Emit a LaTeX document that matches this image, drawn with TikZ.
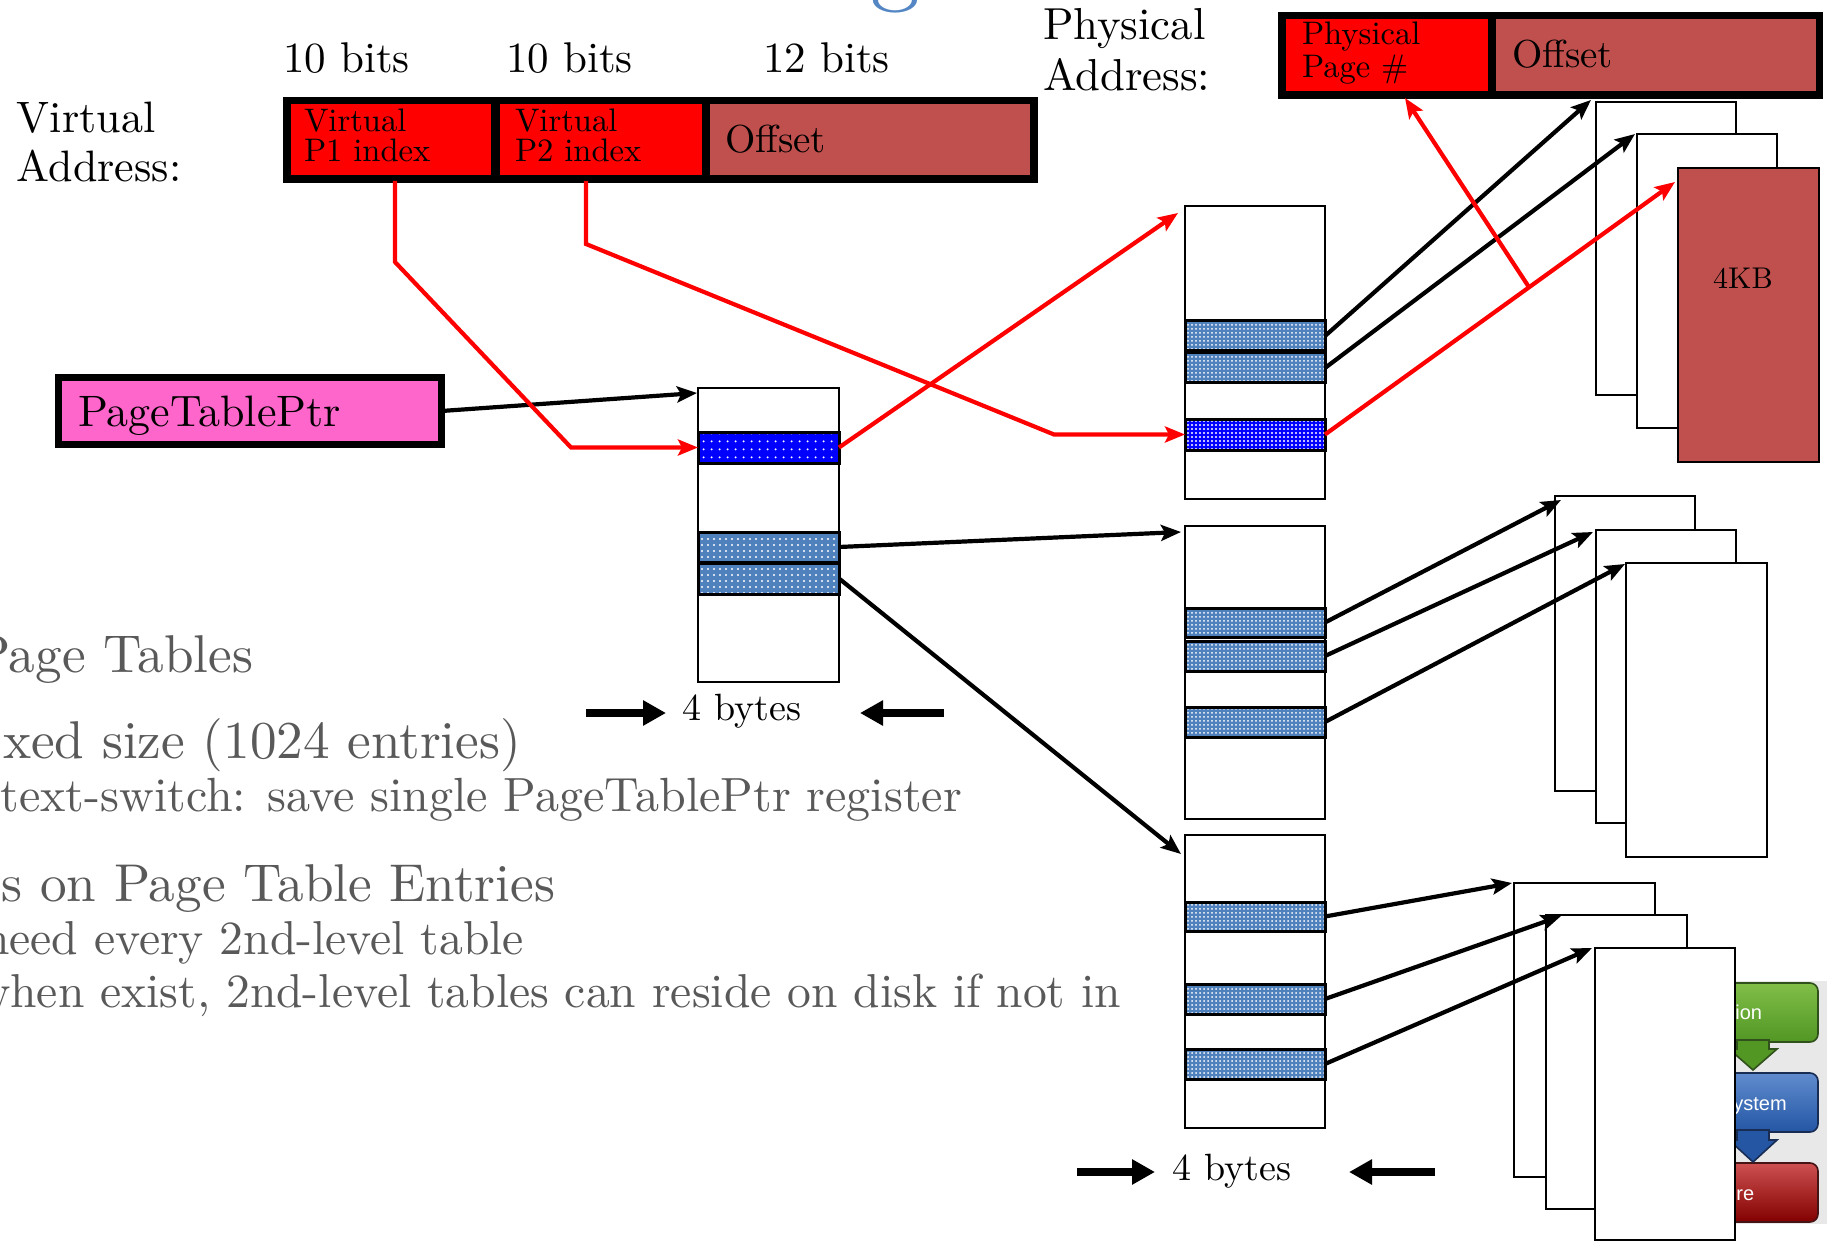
\documentclass[tikz,border=0pt]{standalone}
\usepackage{fontspec}
\setmainfont{lmroman10-regular.otf}
\newfontfamily\uisans{Liberation Sans}
\usetikzlibrary{arrows.meta,calc,patterns.meta}

\definecolor{fieldred}{RGB}{255,0,0}
\definecolor{brick}{RGB}{192,80,77}
\definecolor{ptpink}{RGB}{255,102,204}
\definecolor{pteblue}{RGB}{79,129,189}
\definecolor{pteblue2}{RGB}{0,0,255}
\definecolor{slidegray}{RGB}{89,89,89}
\definecolor{titleblue}{RGB}{84,134,196}
\definecolor{uibg}{RGB}{232,232,232}
\definecolor{gtop}{RGB}{128,190,72}
\definecolor{gbot}{RGB}{82,150,36}
\definecolor{gline}{RGB}{48,80,28}
\definecolor{btop}{RGB}{96,140,206}
\definecolor{bbot}{RGB}{36,86,164}
\definecolor{bline}{RGB}{24,44,84}
\definecolor{rtop}{RGB}{206,80,80}
\definecolor{rbot}{RGB}{130,0,0}
\definecolor{rline}{RGB}{70,20,20}

\newcommand\fsz[1]{\fontsize{#1}{#1}\selectfont}
% rectangle node given by its corners (x1,y1)-(x2,y2)
\newcommand\boxnode[6]{\node[#6, minimum width={(#4-#2)*0.5pt}, minimum height={(#5-#3)*0.5pt}] (#1) at ({(#2+#4)/2},{(#3+#5)/2}) {};}

\tikzset{
  cell/.style={inner sep=0pt, outer sep=0pt, anchor=center},
  blackbg/.style={cell, fill=black},
  redfield/.style={cell, fill=fieldred},
  brickfield/.style={cell, fill=brick},
  ptbox/.style={cell, draw=black, line width=3.5pt, fill=ptpink},
  tabframe/.style={cell, draw=black, line width=1.2pt, fill=white},
  pageframe/.style={cell, draw=black, line width=1.2pt, fill=white},
  pagebrick/.style={pageframe, fill=brick},
  entryA/.style={cell, draw=black, line width=1.5pt, preaction={fill=pteblue},
    pattern={Dots[distance=3pt,radius=0.6pt]}, pattern color=white},
  entryAx/.style={cell, draw=black, line width=1.5pt, preaction={fill=pteblue2},
    pattern={Dots[distance=4pt,radius=0.6pt]}, pattern color=white},
  entryB/.style={cell, draw=black, line width=1.5pt, preaction={fill=pteblue},
    pattern={Dots[distance=2pt,radius=0.5pt]}, pattern color=white},
  entryBx/.style={cell, draw=black, line width=1.5pt, preaction={fill=pteblue2},
    pattern={Dots[distance=2pt,radius=0.55pt]}, pattern color=white},
  lbl/.style={inner sep=0pt, outer sep=0pt, anchor=base west},
  grayline/.style={inner sep=0pt, outer sep=0pt, anchor=base east, text=slidegray},
  uitext/.style={inner sep=0pt, anchor=base west, text=white, font=\uisans\fsz{10}},
  uibox/.style={cell, rounded corners=4pt, line width=0.8pt},
  blkarrow/.style={draw=black, line width=2.1pt, -{Stealth[length=10pt,width=8pt,inset=2pt]}},
  redarrow/.style={draw=fieldred, line width=2.1pt, -{Stealth[length=10pt,width=8pt,inset=2pt]}},
  sizearrow/.style={draw=black, line width=4pt, -{Triangle[length=11.5pt,width=12pt]}},
}

\begin{document}
\begin{tikzpicture}[x=0.5pt,y=-0.5pt]
\useasboundingbox (0,0) rectangle (1827,1241);
\clip (0,0) rectangle (1827,1241);

% descender of the slide title
\node[inner sep=0pt, anchor=south, text=titleblue, font=\fsz{50}] (titleg) at (895,14) {g};

% slide body text
\node[grayline, font=\fsz{26.6}] (bodyA) at (253,672) {Page Tables};
\node[grayline, font=\fsz{26.6}] (bodyB) at (521,758) {xed size (1024 entries)};
\node[grayline, font=\fsz{24}] (bodyC) at (962,811) {text-switch: save single PageTablePtr register};
\node[grayline, font=\fsz{26.6}] (bodyD) at (555,901) {s on Page Table Entries};
\node[grayline, font=\fsz{23.8}] (bodyE) at (524,954) {need every 2nd-level table};
\node[grayline, font=\fsz{23.8}] (bodyF) at (1121,1007) {when exist, 2nd-level tables can reside on disk if not in};

% virtual address
\node[lbl, font=\fsz{21.5}] (bitsA) at (283,73) {10 bits};
\node[lbl, font=\fsz{21.5}] (bitsB) at (506,73) {10 bits};
\node[lbl, font=\fsz{21.5}] (bitsC) at (763,73) {12 bits};
\node[lbl, font=\fsz{22}] (vlabA) at (17,133) {Virtual};
\node[lbl, font=\fsz{22}] (vlabB) at (17,182) {Address:};
\boxnode{vaddr}{283}{97}{1038}{183}{blackbg}
\boxnode{vp1}{291}{104}{491}{175}{redfield}
\boxnode{vp2}{500}{104}{702}{175}{redfield}
\boxnode{voff}{710}{104}{1030}{175}{brickfield}
\node[lbl, font=\fsz{16.3}] (vp1a) at (304,132) {Virtual};
\node[lbl, font=\fsz{16.3}] (vp1b) at (304,162) {P1 index};
\node[lbl, font=\fsz{16.3}] (vp2a) at (515,132) {Virtual};
\node[lbl, font=\fsz{16.3}] (vp2b) at (515,162) {P2 index};
\node[lbl, font=\fsz{19.5}] (vofft) at (725,153) {Offset};

% physical address
\node[lbl, font=\fsz{22.4}] (plabA) at (1043,40) {Physical};
\node[lbl, font=\fsz{22.4}] (plabB) at (1043,91) {Address:};
\boxnode{paddr}{1278}{12}{1823}{99}{blackbg}
\boxnode{ppn}{1286}{19}{1488}{91}{redfield}
\boxnode{poff}{1496}{19}{1816}{91}{brickfield}
\node[lbl, font=\fsz{16.3}] (ppna) at (1302,45) {Physical};
\node[lbl, font=\fsz{16.3}] (ppnb) at (1302,78) {Page \#};
\node[lbl, font=\fsz{19.5}] (pofft) at (1512,68) {Offset};

% page table pointer register
\boxnode{ptp}{58.5}{377.5}{441.5}{444.5}{ptbox}
\node[lbl, font=\fsz{22}] (ptpt) at (78,427) {PageTablePtr};

% first-level table
\boxnode{t1}{698}{388}{839}{682}{tabframe}
\boxnode{t1x}{698}{432}{839}{463}{entryAx}
\boxnode{t1a}{698}{532}{839}{562}{entryA}
\boxnode{t1b}{698}{563}{839}{594}{entryA}
\node[lbl, anchor=base, font=\fsz{19}] (bytesA) at (742,720) {4 bytes};
\coordinate (szA1) at (586,713);
\coordinate (szA2) at (666,713);
\coordinate (szA3) at (944,713);
\coordinate (szA4) at (860,713);

% second-level tables
\boxnode{t2a}{1185}{206}{1325}{499}{tabframe}
\boxnode{t2a1}{1185}{321}{1325}{351}{entryB}
\boxnode{t2a2}{1185}{353}{1325}{383}{entryB}
\boxnode{t2ax}{1185}{419}{1325}{450}{entryBx}
\boxnode{t2b}{1185}{526}{1325}{819}{tabframe}
\boxnode{t2b1}{1185}{608}{1325}{637}{entryB}
\boxnode{t2b2}{1185}{641}{1325}{671}{entryB}
\boxnode{t2b3}{1185}{707}{1325}{737}{entryB}
\boxnode{t2c}{1185}{835}{1325}{1128}{tabframe}
\boxnode{t2c1}{1185}{902}{1325}{931}{entryB}
\boxnode{t2c2}{1185}{984}{1325}{1014}{entryB}
\boxnode{t2c3}{1185}{1049}{1325}{1079}{entryB}
\node[lbl, anchor=base, font=\fsz{19}] (bytesB) at (1232,1180) {4 bytes};
\coordinate (szB1) at (1077,1172);
\coordinate (szB2) at (1155,1172);
\coordinate (szB3) at (1435,1172);
\coordinate (szB4) at (1349,1172);

% layer stack graphic behind the last pages
\fill[uibg] (1700,981) rectangle (1827,1224);
\boxnode{uiA}{1650}{983}{1818}{1042}{uibox, draw=gline, top color=gtop, bottom color=gbot}
\boxnode{uiB}{1650}{1073}{1818}{1132}{uibox, draw=bline, top color=btop, bottom color=bbot}
\boxnode{uiC}{1650}{1163}{1818}{1222}{uibox, draw=rline, top color=rtop, bottom color=rbot}
\filldraw[fill=gbot, draw=gline, line width=0.8pt]
  (1737,1040) -- (1769,1040) -- (1769,1049) -- (1777,1049) -- (1753,1070)
  -- (1729,1049) -- (1737,1049) -- cycle;
\filldraw[fill=bbot, draw=bline, line width=0.8pt]
  (1737,1130) -- (1769,1130) -- (1769,1140) -- (1777,1140) -- (1753,1162)
  -- (1729,1140) -- (1737,1140) -- cycle;
\node[uitext] (uiAt) at (1735,1019) {ion};
\node[uitext] (uiBt) at (1733,1110) {ystem};
\node[uitext] (uiCt) at (1736,1200) {re};

% physical pages
\boxnode{pa1}{1596}{102}{1736}{395}{pageframe}
\boxnode{pa2}{1637}{134}{1777}{428}{pageframe}
\boxnode{pa3}{1678}{168}{1819}{462}{pagebrick}
\node[inner sep=0pt, anchor=base, font=\fsz{15}] (kb) at (1743,289) {4KB};
\boxnode{pb1}{1555}{496}{1695}{791}{pageframe}
\boxnode{pb2}{1596}{530}{1736}{823}{pageframe}
\boxnode{pb3}{1626}{563}{1767}{857}{pageframe}
\boxnode{pc1}{1514}{883}{1655}{1177}{pageframe}
\boxnode{pc2}{1546}{915}{1687}{1209}{pageframe}
\boxnode{pc3}{1595}{948}{1735}{1240}{pageframe}

% entry widths
\draw[sizearrow] (szA1) -- (szA2);
\draw[sizearrow] (szA3) -- (szA4);
\draw[sizearrow] (szB1) -- (szB2);
\draw[sizearrow] (szB3) -- (szB4);

% pointers
\draw[blkarrow] (ptp.east) -- ($(t1.north west)+(-1,5)$);
\draw[blkarrow] (t1a.east) -- ($(t2b.north west)+(-4,6)$);
\draw[blkarrow] (t1b.east) -- ($(t2c.north west)+(-4,19)$);
\draw[blkarrow] (t2a1.east) -- ($(pa1.north west)+(-5,-2)$);
\draw[blkarrow] (t2a2.east) -- ($(pa2.north west)+(-2,0)$);
\draw[blkarrow] (t2b1.east) -- ($(pb1.north west)+(6,4)$);
\draw[blkarrow] (t2b2.east) -- ($(pb2.north west)+(-3,2)$);
\draw[blkarrow] (t2b3.east) -- ($(pb3.north west)+(-1,1)$);
\draw[blkarrow] (t2c1.east) -- ($(pc1.north west)+(-2,0)$);
\draw[blkarrow] (t2c2.east) -- ($(pc2.north west)+(15,1)$);
\draw[blkarrow] (t2c3.east) -- ($(pc3.north west)+(-3,0)$);

% translation path
\draw[redarrow] ($(vp1.south)+(4,6)$) -- ++(0,81) -- (571,447.5) -- (t1x.west);
\draw[redarrow] ($(vp2.south)+(-15,6)$) -- ++(0,63) -- (1054,434.5) -- (t2ax.west);
\draw[redarrow] (t1x.east) -- ($(t2a.north west)+(-7,7)$);
\coordinate (pagetip) at ($(pa3.north west)+(-3,14)$);
\draw[redarrow] (t2ax.east) -- (pagetip);
\coordinate (split) at ($(t2ax.east)!0.583!(pagetip)$);
\draw[redarrow] (split) -- ($(ppn.south)+(18,7)$);
\end{tikzpicture}
\end{document}
